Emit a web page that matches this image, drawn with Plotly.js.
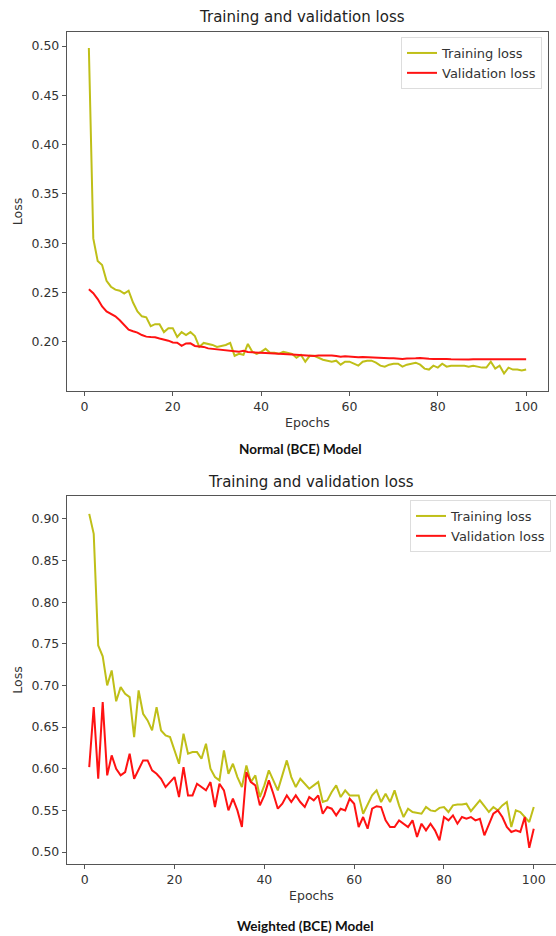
<!DOCTYPE html>
<html><head><meta charset="utf-8">
<script src="https://cdn.plot.ly/plotly-3.0.1.min.js"></script>
<style>html,body{margin:0;padding:0;background:#fff}#chart{width:556px;height:936px}</style>
</head><body><div id="chart"></div>
<script>
const epochs = [1,2,3,4,5,6,7,8,9,10,11,12,13,14,15,16,17,18,19,20,21,22,23,24,25,26,27,28,29,30,31,32,33,34,35,36,37,38,39,40,41,42,43,44,45,46,47,48,49,50,51,52,53,54,55,56,57,58,59,60,61,62,63,64,65,66,67,68,69,70,71,72,73,74,75,76,77,78,79,80,81,82,83,84,85,86,87,88,89,90,91,92,93,94,95,96,97,98,99,100];

// Normal (BCE) model
const normalTrain = [0.498,0.305,0.282,0.278,0.262,0.256,0.253,0.252,0.249,0.252,0.240,0.231,0.226,0.225,0.216,0.218,0.218,0.210,0.214,0.214,0.205,0.210,0.207,0.210,0.206,0.195,0.199,0.198,0.197,0.195,0.196,0.197,0.199,0.186,0.188,0.187,0.198,0.190,0.188,0.190,0.193,0.189,0.189,0.188,0.190,0.189,0.188,0.184,0.187,0.180,0.186,0.186,0.184,0.182,0.181,0.180,0.181,0.177,0.180,0.180,0.178,0.176,0.180,0.181,0.181,0.179,0.176,0.175,0.177,0.178,0.178,0.175,0.177,0.178,0.179,0.177,0.173,0.172,0.176,0.174,0.178,0.175,0.176,0.176,0.176,0.176,0.175,0.176,0.175,0.174,0.174,0.180,0.173,0.176,0.168,0.174,0.172,0.172,0.171,0.172];
const normalVal = [0.2534,0.2495,0.2435,0.2360,0.2310,0.2285,0.2260,0.2220,0.2172,0.2125,0.2108,0.2095,0.2070,0.2054,0.2050,0.2047,0.2035,0.2025,0.2013,0.1995,0.1993,0.1960,0.1985,0.1986,0.1960,0.1955,0.1950,0.1935,0.1930,0.1926,0.1918,0.1912,0.1905,0.1902,0.1902,0.1910,0.1898,0.1895,0.1890,0.1886,0.1887,0.1885,0.1884,0.1885,0.1880,0.1876,0.1874,0.1870,0.1866,0.1862,0.1860,0.1858,0.1863,0.1865,0.1862,0.1864,0.1858,0.1851,0.1855,0.1851,0.1850,0.1846,0.1848,0.1845,0.1845,0.1842,0.1838,0.1840,0.1834,0.1836,0.1830,0.1828,0.1832,0.1830,0.1834,0.1838,0.1832,0.1830,0.1828,0.1830,0.1830,0.1828,0.1826,0.1824,0.1822,0.1821,0.1823,0.1824,0.1824,0.1823,0.1824,0.1824,0.1822,0.1820,0.1818,0.1820,0.1821,0.1822,0.1824,0.1825];

// Weighted (BCE) model
const weightedTrain = [0.906,0.882,0.748,0.735,0.700,0.718,0.681,0.698,0.690,0.686,0.638,0.694,0.666,0.658,0.646,0.674,0.646,0.640,0.638,0.622,0.606,0.642,0.618,0.620,0.620,0.612,0.630,0.600,0.590,0.586,0.622,0.594,0.606,0.590,0.578,0.604,0.584,0.592,0.566,0.580,0.598,0.586,0.574,0.592,0.610,0.590,0.578,0.588,0.582,0.576,0.580,0.584,0.560,0.562,0.572,0.580,0.566,0.574,0.568,0.568,0.568,0.546,0.558,0.568,0.574,0.560,0.570,0.560,0.574,0.556,0.542,0.552,0.548,0.547,0.546,0.554,0.550,0.549,0.553,0.554,0.548,0.556,0.557,0.557,0.558,0.549,0.556,0.562,0.555,0.548,0.554,0.550,0.556,0.560,0.530,0.550,0.548,0.542,0.536,0.554];
const weightedVal = [0.602,0.674,0.588,0.680,0.592,0.616,0.600,0.592,0.596,0.618,0.588,0.600,0.610,0.610,0.598,0.594,0.588,0.578,0.584,0.590,0.566,0.602,0.568,0.568,0.582,0.578,0.574,0.584,0.554,0.582,0.574,0.550,0.564,0.550,0.530,0.596,0.584,0.580,0.556,0.568,0.586,0.570,0.552,0.558,0.568,0.560,0.568,0.560,0.554,0.566,0.562,0.568,0.546,0.554,0.552,0.544,0.552,0.550,0.564,0.558,0.530,0.542,0.528,0.552,0.555,0.554,0.538,0.530,0.530,0.538,0.534,0.530,0.538,0.518,0.534,0.526,0.534,0.526,0.514,0.542,0.538,0.544,0.534,0.542,0.540,0.542,0.538,0.540,0.520,0.534,0.546,0.550,0.542,0.530,0.524,0.526,0.524,0.542,0.505,0.528];

const xTicks = [0,20,40,60,80,100];
const yTicksTop = [0.20,0.25,0.30,0.35,0.40,0.45,0.50];
const yTicksBottom = [0.50,0.55,0.60,0.65,0.70,0.75,0.80,0.85,0.90];
const chartTitle = 'Training and validation loss';
const captions = ['Normal (BCE) Model','Weighted (BCE) Model'];
const seriesNames = ['Training loss','Validation loss'];

const W = 556, H = 936;
const px = v => v / W;
const py = v => 1 - v / H;
const TRAIN_COLOR = '#bfbf18';
const VAL_COLOR = '#ff1212';
const FONT = 'DejaVu Sans, sans-serif';
const LW = 2;

const traces = [
  {x: epochs, y: normalTrain, name: seriesNames[0], type: 'scatter', mode: 'lines', line: {color: TRAIN_COLOR, width: LW}, xaxis: 'x', yaxis: 'y', legend: 'legend'},
  {x: epochs, y: normalVal, name: seriesNames[1], type: 'scatter', mode: 'lines', line: {color: VAL_COLOR, width: LW}, xaxis: 'x', yaxis: 'y', legend: 'legend'},
  {x: epochs, y: weightedTrain, name: seriesNames[0], type: 'scatter', mode: 'lines', line: {color: TRAIN_COLOR, width: LW}, xaxis: 'x2', yaxis: 'y2', legend: 'legend2'},
  {x: epochs, y: weightedVal, name: seriesNames[1], type: 'scatter', mode: 'lines', line: {color: VAL_COLOR, width: LW}, xaxis: 'x2', yaxis: 'y2', legend: 'legend2'}
];

const axisCommon = {
  showline: true, mirror: true, linecolor: '#555', linewidth: 1.2,
  ticks: 'outside', ticklen: 4, tickwidth: 1, tickcolor: '#555',
  showgrid: false, zeroline: false, automargin: false,
  tickfont: {family: FONT, size: 12.5, color: '#333'}
};

const legendCommon = {
  bgcolor: 'rgba(255,255,255,0.9)', bordercolor: '#ddd', borderwidth: 1,
  font: {family: FONT, size: 13, color: '#333'},
  xanchor: 'right', yanchor: 'top', tracegroupgap: 0, itemwidth: 30
};

const layout = {
  width: W, height: H,
  margin: {l: 0, r: 0, t: 0, b: 0},
  paper_bgcolor: '#fff', plot_bgcolor: '#fff',
  showlegend: true,
  xaxis: Object.assign({}, axisCommon, {domain: [px(67), px(548)], range: [-3.95, 104.95], anchor: 'y', tickvals: xTicks,
    title: {text: 'Epochs', font: {family: FONT, size: 12.5, color: '#333'}, standoff: 5}}),
  yaxis: Object.assign({}, axisCommon, {domain: [py(391), py(32)], range: [0.1503, 0.5142], anchor: 'x', tickvals: yTicksTop, tickformat: '.2f',
    title: {text: 'Loss', font: {family: FONT, size: 12.5, color: '#333'}, standoff: 6}}),
  xaxis2: Object.assign({}, axisCommon, {domain: [px(67), 1], range: [-3.95, 104.95], anchor: 'y2', tickvals: xTicks,
    title: {text: 'Epochs', font: {family: FONT, size: 12.5, color: '#333'}, standoff: 5}}),
  yaxis2: Object.assign({}, axisCommon, {domain: [py(864), py(496)], range: [0.4856, 0.9275], anchor: 'x2', tickvals: yTicksBottom, tickformat: '.2f',
    title: {text: 'Loss', font: {family: FONT, size: 12.5, color: '#333'}, standoff: 6}}),
  legend: Object.assign({}, legendCommon, {x: px(542), y: py(37)}),
  legend2: Object.assign({}, legendCommon, {x: px(551), y: py(500)}),
  annotations: [
    {text: chartTitle, xref: 'paper', yref: 'paper', x: px(302), y: py(17), xanchor: 'center', yanchor: 'middle', showarrow: false,
     font: {family: FONT, size: 15, color: '#222'}},
    {text: chartTitle, xref: 'paper', yref: 'paper', x: px(311), y: py(482), xanchor: 'center', yanchor: 'middle', showarrow: false,
     font: {family: FONT, size: 15, color: '#222'}},
    {text: '<b>' + captions[0] + '</b>', xref: 'paper', yref: 'paper', x: px(300), y: py(449), xanchor: 'center', yanchor: 'middle', showarrow: false,
     font: {family: 'Lato, Liberation Sans, sans-serif', size: 13.5, color: '#111'}},
    {text: '<b>' + captions[1] + '</b>', xref: 'paper', yref: 'paper', x: px(305), y: py(926), xanchor: 'center', yanchor: 'middle', showarrow: false,
     font: {family: 'Lato, Liberation Sans, sans-serif', size: 13.5, color: '#111'}}
  ]
};

Plotly.newPlot('chart', traces, layout, {staticPlot: true, displayModeBar: false});
</script>
</body></html>
